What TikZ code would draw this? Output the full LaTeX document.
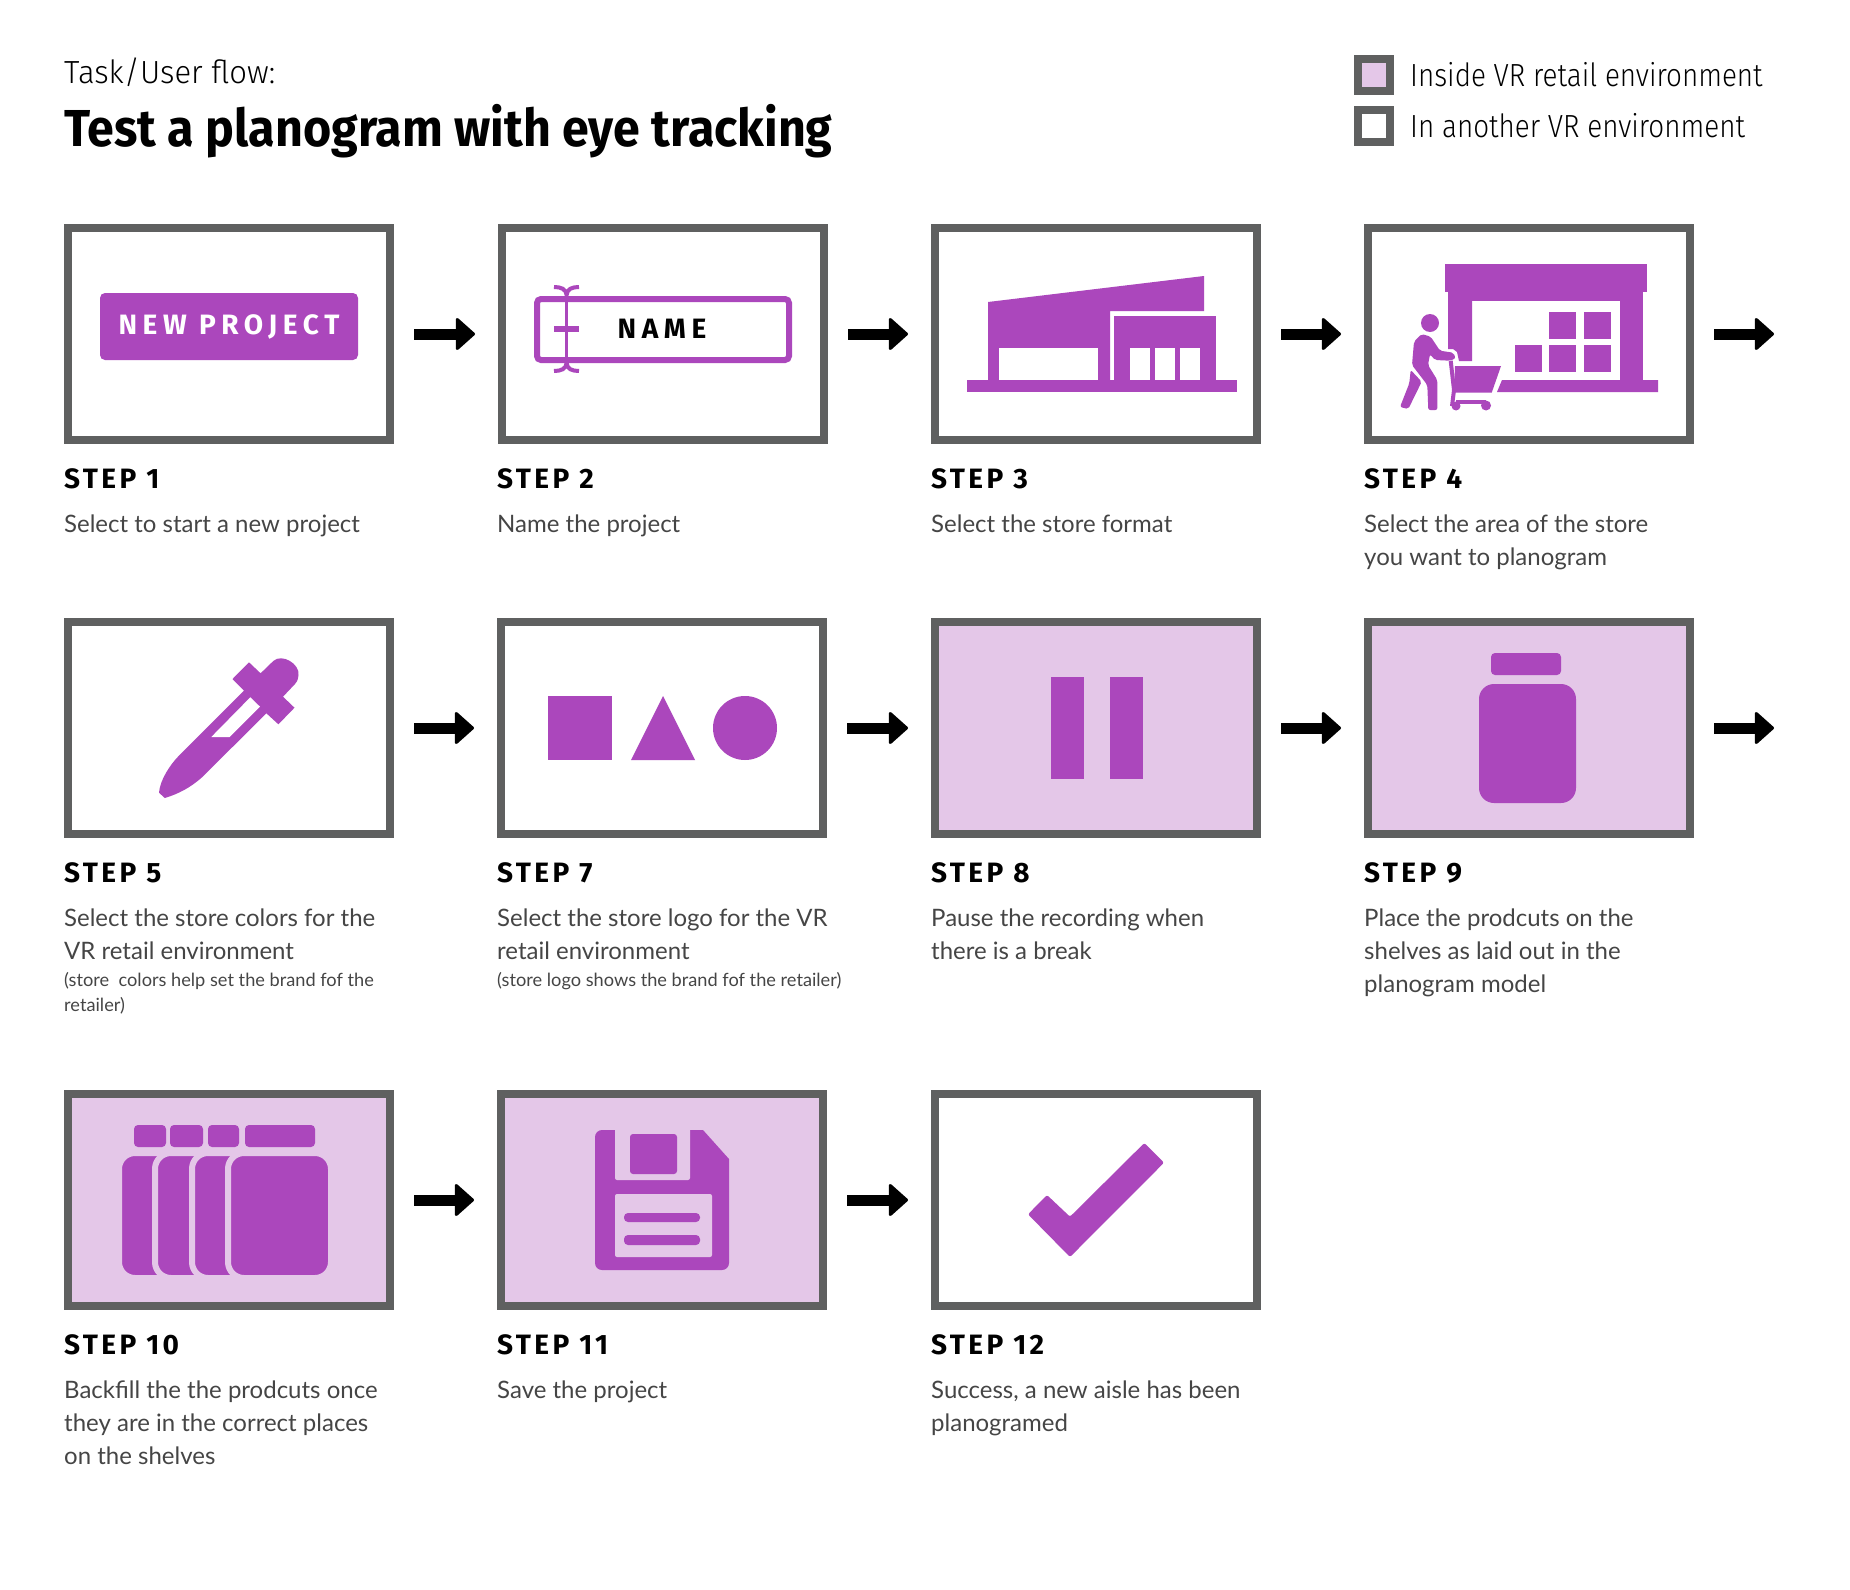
\documentclass[tikz,border=0pt]{standalone}
\usepackage{fontspec}
\usetikzlibrary{arrows.meta}
\setmainfont{Lato}
\newfontfamily\titlefont[FakeStretch=0.93]{Fira Sans}
\newfontfamily\lightfont[FakeStretch=0.97]{Fira Sans Light}
\newfontfamily\legendfont[FakeStretch=0.87]{Fira Sans Light}
\newfontfamily\stepfont[LetterSpace=12]{Fira Sans}
\newfontfamily\iconfont[LetterSpace=20]{Fira Sans}
\definecolor{vrgray}{HTML}{5F6060}
\definecolor{vrpurple}{HTML}{AB47BC}
\definecolor{vrlight}{HTML}{E4C7E8}
\definecolor{vrtext}{HTML}{454545}
\tikzset{
  stepbox/.style={draw=vrgray, line width=8pt, fill=white, minimum width=322pt, minimum height=212pt, inner sep=0pt},
  insidebox/.style={stepbox, fill=vrlight},
  legendbox/.style={draw=vrgray, line width=8pt, minimum size=32pt, inner sep=0pt},
  flowarrow/.style={line width=11pt, shorten <=20pt, shorten >=23pt, -{Triangle[length=20pt,width=35pt,round,line width=3pt]}},
  steplabel/.style={anchor=base west, inner sep=0pt, font=\stepfont\bfseries\fontsize{28}{28}\selectfont},
  steptext/.style={anchor=north west, inner sep=0pt, align=left, text=vrtext, font=\fontsize{24}{33}\selectfont},
  stepnote/.style={anchor=north west, inner sep=0pt, align=left, text=vrtext, font=\fontsize{18.2}{25}\selectfont},
  legendtext/.style={anchor=base west, inner sep=0pt, font=\legendfont\fontsize{32}{32}\selectfont},
  icon/.style={fill=vrpurple},
  icontext/.style={inner sep=0pt, font=\iconfont\bfseries\fontsize{28}{28}\selectfont}
}
\begin{document}
\begin{tikzpicture}[x=1pt,y=-1pt]
    \useasboundingbox (0,0) rectangle (1850,1590);
    % Title
    \node[anchor=base west, inner sep=0pt, font=\lightfont\fontsize{32}{32}\selectfont] (subtitle) at (64,83) {Task/User flow:};
    \node[anchor=base west, inner sep=0pt, font=\titlefont\bfseries\fontsize{52}{52}\selectfont] (title) at (64,146) {Test a planogram with eye tracking};

    % Legend
    \node[legendbox, fill=vrlight] (legendin) at (1374,75) {};
    \node[legendbox, fill=white] (legendout) at (1374,126) {};
    \node[legendtext] (legendintext) at (1410,86) {Inside VR retail environment};
    \node[legendtext] (legendouttext) at (1410,137) {In another VR environment};

    % Step boxes
    \node[stepbox] (box1) at (229,334) {};
    \node[stepbox] (box2) at (663,334) {};
    \node[stepbox] (box3) at (1096,334) {};
    \node[stepbox] (box4) at (1529,334) {};
    \node[stepbox] (box5) at (229,728) {};
    \node[stepbox] (box7) at (662,728) {};
    \node[insidebox] (box8) at (1096,728) {};
    \node[insidebox] (box9) at (1529,728) {};
    \node[insidebox] (box10) at (229,1200) {};
    \node[insidebox] (box11) at (662,1200) {};
    \node[stepbox] (box12) at (1096,1200) {};

    % Arrows between the boxes
    \coordinate (end4) at (1797,334);
    \coordinate (end9) at (1797,728);
    \draw[flowarrow] (box1.east) -- (box2.west);
    \draw[flowarrow] (box2.east) -- (box3.west);
    \draw[flowarrow] (box3.east) -- (box4.west);
    \draw[flowarrow] (box4.east) -- (end4);
    \draw[flowarrow] (box5.east) -- (box7.west);
    \draw[flowarrow] (box7.east) -- (box8.west);
    \draw[flowarrow] (box8.east) -- (box9.west);
    \draw[flowarrow] (box9.east) -- (end9);
    \draw[flowarrow] (box10.east) -- (box11.west);
    \draw[flowarrow] (box11.east) -- (box12.west);

    % Step 1 button
    \node[icontext, fill=vrpurple, text=white, rounded corners=5pt, minimum width=258pt, minimum height=67pt] (newproject) at (229,326.5) {NEW PROJECT};

    % Step 2 name field with cursor
    \node[draw=vrpurple, line width=6pt, rounded corners=4pt, minimum width=252pt, minimum height=61pt, inner sep=0pt] (namefield) at (663,329.5) {};
    \node[icontext] (namelabel) at (662,329) {NAME};
    \draw[vrpurple, line width=3.5pt] (566.6,292) -- (566.6,366);
    \draw[vrpurple, line width=6pt] (554,329) -- (579,329);
    \draw[vrpurple, line width=4pt] (554,287) .. controls (561,287) and (566,289) .. (566.6,295) .. controls (567,289) and (572,287) .. (579,287);
    \draw[vrpurple, line width=4pt] (554,371) .. controls (561,371) and (566,369) .. (566.6,363) .. controls (567,369) and (572,371) .. (579,371);

    % Step 3 store front
    \fill[icon] (967,380) rectangle (1237,392);
    \fill[icon] (988,302) -- (1204,276) -- (1204,311) -- (1110,311) -- (1110,380) -- (988,380) -- cycle;
    \fill[icon] (1114,316) rectangle (1216,380);
    \fill[white] (999,348) rectangle (1098,380);
    \foreach \wx in {1130,1155,1180}
        \fill[white] (\wx,348) rectangle +(20,32);

    % Step 4 aisle and shopper
    \fill[icon] (1445,264) rectangle (1647,292);
    \fill[icon] (1448,292) rectangle (1643,301);
    \fill[icon] (1620,292) rectangle (1643,380);
    \fill[icon] (1448,292) -- (1472,292) -- (1472,361) -- (1459,361) -- (1457,352) -- (1453,349) -- (1448,349) -- cycle;
    \fill[icon] (1502,380) -- (1658,380) -- (1658,392) -- (1497,392) -- cycle;
    \foreach \bx/\by in {1549/312,1584/312,1515/345,1549/345,1584/345}
        \fill[icon] (\bx,\by) rectangle +(27,27);
    \fill[icon] (1430,323) circle[radius=9pt];
    \fill[icon, rounded corners=2pt] (1421.7,334) -- (1414,341.7) -- (1412,365) -- (1427.3,385) -- (1428.3,410) -- (1437.3,410) -- (1437.3,380) -- (1428,365) -- (1430,354.3) -- (1435,360) -- (1450,360.7) -- (1455.7,358.3) -- (1453.3,352.7) -- (1440,350.7) -- (1430.7,336.7) -- cycle;
    \fill[icon, rounded corners=2pt] (1410.7,370) -- (1421.7,381.7) -- (1408.3,409) -- (1400,407) -- (1409.3,383.3) -- cycle;
    \fill[icon] (1455,366) -- (1501,366) -- (1491.7,392.7) -- (1454,392.7) -- cycle;
    \draw[vrpurple, line width=4pt] (1450.7,360.7) -- (1454,390) -- (1452,406);
    \draw[vrpurple, line width=4pt] (1456,401.7) -- (1486,401.7);
    \fill[icon] (1456,406) circle[radius=4.5pt];
    \fill[icon] (1486,405.5) circle[radius=5pt];

    % Step 5 dropper
    \fill[icon] (164.8,798) -- (159,792.7) .. controls (160,780) and (170,765) .. (178,756.7) -- (244,690.7) -- (232.5,679) -- (249,662.3) -- (260.6,673.3) -- (273.3,661) .. controls (282,653) and (300,664) .. (298.5,675) .. controls (298,681) and (296,683) .. (295,684) -- (283,696.7) -- (294.5,707.7) -- (278.4,724.3) -- (266.4,713.3) -- (202,777.3) .. controls (190,788) and (178,794) .. (164.8,798) -- cycle;
    \fill[white] (250.3,697.3) -- (260,706.7) -- (229.6,737) -- (211.3,737) -- cycle;

    % Step 7 shapes
    \fill[icon] (548,696) rectangle (612,760);
    \fill[icon] (631,760) -- (695,760) -- (663,696) -- cycle;
    \fill[icon] (745,728) circle[radius=32pt];

    % Step 8 pause
    \fill[icon] (1051,677) rectangle (1084,779);
    \fill[icon] (1110,677) rectangle (1143,779);

    % Step 9 jar
    \fill[icon, rounded corners=4pt] (1491,653) rectangle (1561,675);
    \fill[icon, rounded corners=15pt] (1479,684) rectangle (1576,803);

    % Step 10 row of jars
    \foreach \lx/\lw in {134/32,170/33,208/31,245/70}
        \fill[icon, rounded corners=4pt] (\lx,1125) rectangle +(\lw,22);
    \foreach \jx in {119,155,192,228}
        \draw[vrlight, line width=6pt, fill=vrpurple, rounded corners=16pt] (\jx,1153) rectangle (331,1278);

    % Step 11 floppy disk
    \fill[icon, rounded corners=7pt] (620,1130) -- (595,1130) -- (595,1270) -- (729,1270) -- (729,1240) [sharp corners] -- (729,1159) -- (703,1130) -- cycle;
    \fill[vrlight, rounded corners=2pt] (615,1128) rectangle (690,1180);
    \fill[icon, rounded corners=3pt] (630,1134) rectangle (677,1174);
    \fill[vrlight, rounded corners=2pt] (615,1194) rectangle (712,1257);
    \fill[icon, rounded corners=4pt] (624,1213) rectangle (700,1222);
    \fill[icon, rounded corners=4pt] (624,1235) rectangle (700,1245);

    % Step 12 check mark
    \fill[icon, rounded corners=2pt] (1028,1214.3) -- (1047,1195) -- (1070,1216.7) -- (1144.3,1143) -- (1164,1162.7) -- (1070,1257) -- cycle;

    % Step labels and texts, first row
    \node[steplabel] (label1) at (64,488) {STEP 1};
    \node[steplabel] (label2) at (497,488) {STEP 2};
    \node[steplabel] (label3) at (931,488) {STEP 3};
    \node[steplabel] (label4) at (1364,488) {STEP 4};
    \node[steptext] (text1) at (64,509) {\strut Select to start a new project};
    \node[steptext] (text2) at (497,509) {\strut Name the project};
    \node[steptext] (text3) at (931,509) {\strut Select the store format};
    \node[steptext] (text4) at (1364,509) {\strut Select the area of the store\\you want to planogram};

    % Second row
    \node[steplabel] (label5) at (64,882) {STEP 5};
    \node[steplabel] (label7) at (497,882) {STEP 7};
    \node[steplabel] (label8) at (931,882) {STEP 8};
    \node[steplabel] (label9) at (1364,882) {STEP 9};
    \node[steptext] (text5) at (64,903) {\strut Select the store colors for the\\VR retail environment};
    \node[stepnote] (note5) at (64,968.5) {\strut (store\ \ colors help set the brand fof the\\retailer)};
    \node[steptext] (text7) at (497,903) {\strut Select the store logo for the VR\\retail environment};
    \node[stepnote] (note7) at (497,968.5) {\strut (store logo shows the brand fof the retailer)};
    \node[steptext] (text8) at (931,903) {\strut Pause the recording when\\there is a break};
    \node[steptext] (text9) at (1364,903) {\strut Place the prodcuts on the\\shelves as laid out in the\\planogram model};

    % Third row
    \node[steplabel] (label10) at (64,1354) {STEP 10};
    \node[steplabel] (label11) at (497,1354) {STEP 11};
    \node[steplabel] (label12) at (931,1354) {STEP 12};
    \node[steptext] (text10) at (64,1375) {\strut Backfill the the prodcuts once\\they are in the correct places\\on the shelves};
    \node[steptext] (text11) at (497,1375) {\strut Save the project};
    \node[steptext] (text12) at (931,1375) {\strut Success, a new aisle has been\\planogramed};
\end{tikzpicture}
\end{document}
